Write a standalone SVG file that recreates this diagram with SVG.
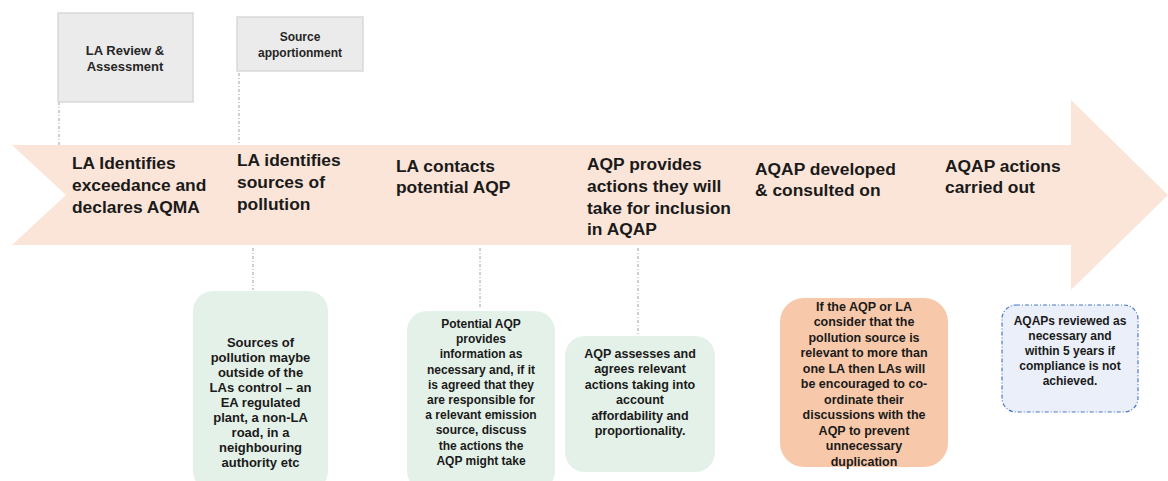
<svg xmlns="http://www.w3.org/2000/svg" width="1168" height="481" viewBox="0 0 1168 481">
<style>
.h{font-family:"Liberation Sans",Arial,sans-serif;font-weight:bold;font-size:17.4px;fill:#1a1a1a}
.g{font-family:"Liberation Sans",Arial,sans-serif;font-weight:bold;font-size:13px;fill:#262626;text-anchor:middle}
.b{font-family:"Liberation Sans",Arial,sans-serif;font-weight:bold;fill:#1a1a1a;text-anchor:middle}
.grey{fill:#ebebeb;stroke:#d9d9d9;stroke-width:1.5}
.green{fill:#e4f1e8}
.conn line{stroke:#a0a0a0;stroke-width:1;stroke-dasharray:3 2 1 2}
</style>
<g id="timeline-arrow">
<polygon points="12,145 1071,145 1071,100 1168,195 1071,290 1071,245 12,245 66,195" fill="#fbe5d8"/>
</g>
<g class="conn" id="connectors">
<line x1="59" y1="102" x2="59" y2="145"/>
<line x1="239" y1="65" x2="239" y2="145"/>
<line x1="253" y1="248" x2="253" y2="290"/>
<line x1="480" y1="248" x2="480" y2="307"/>
<line x1="638" y1="248" x2="638" y2="334"/>
</g>
<g id="la-review">
<rect class="grey" x="58" y="13" width="135" height="89"/>
<text class="g" x="125" y="55">LA Review &amp;</text>
<text class="g" x="125" y="71">Assessment</text>
</g>
<g id="source-apportionment">
<rect class="grey" x="237" y="17" width="126" height="54"/>
<text class="g" x="300" y="41" style="font-size:12px">Source</text>
<text class="g" x="300" y="57" style="font-size:12px">apportionment</text>
</g>
<g id="step1">
<text class="h" x="72" y="169">LA Identifies</text>
<text class="h" x="72" y="191">exceedance and</text>
<text class="h" x="72" y="213">declares AQMA</text>
</g>
<g id="step2">
<text class="h" x="237" y="166">LA identifies</text>
<text class="h" x="237" y="188">sources of</text>
<text class="h" x="237" y="210">pollution</text>
</g>
<g id="step3">
<text class="h" x="396" y="172">LA contacts</text>
<text class="h" x="396" y="193">potential AQP</text>
</g>
<g id="step4">
<text class="h" x="587" y="170">AQP provides</text>
<text class="h" x="587" y="192">actions they will</text>
<text class="h" x="587" y="214">take for inclusion</text>
<text class="h" x="587" y="235">in AQAP</text>
</g>
<g id="step5">
<text class="h" x="755" y="175">AQAP developed</text>
<text class="h" x="755" y="196">&amp; consulted on</text>
</g>
<g id="step6">
<text class="h" x="945" y="172">AQAP actions</text>
<text class="h" x="945" y="193">carried out</text>
</g>
<g id="note-sources">
<rect class="green" x="193" y="291" width="135" height="200" rx="20"/>
<text class="b" style="font-size:13px" x="260.5" y="347">Sources of</text>
<text class="b" style="font-size:13px" x="260.5" y="362">pollution maybe</text>
<text class="b" style="font-size:13px" x="260.5" y="377">outside of the</text>
<text class="b" style="font-size:13px" x="260.5" y="392">LAs control – an</text>
<text class="b" style="font-size:13px" x="260.5" y="407">EA regulated</text>
<text class="b" style="font-size:13px" x="260.5" y="422">plant, a non-LA</text>
<text class="b" style="font-size:13px" x="260.5" y="437">road, in a</text>
<text class="b" style="font-size:13px" x="260.5" y="452">neighbouring</text>
<text class="b" style="font-size:13px" x="260.5" y="467">authority etc</text>
</g>
<g id="note-potential-aqp">
<rect class="green" x="407" y="311" width="148" height="180" rx="20"/>
<text class="b" style="font-size:12px" x="481" y="328">Potential AQP</text>
<text class="b" style="font-size:12px" x="481" y="343.2">provides</text>
<text class="b" style="font-size:12px" x="481" y="358.4">information as</text>
<text class="b" style="font-size:12px" x="481" y="373.6">necessary and, if it</text>
<text class="b" style="font-size:12px" x="481" y="388.8">is agreed that they</text>
<text class="b" style="font-size:12px" x="481" y="404">are responsible for</text>
<text class="b" style="font-size:12px" x="481" y="419.2">a relevant emission</text>
<text class="b" style="font-size:12px" x="481" y="434.4">source, discuss</text>
<text class="b" style="font-size:12px" x="481" y="449.6">the actions the</text>
<text class="b" style="font-size:12px" x="481" y="464.8">AQP might take</text>
</g>
<g id="note-aqp-assesses">
<rect class="green" x="565" y="336" width="150" height="136" rx="20"/>
<text class="b" style="font-size:12.5px" x="640" y="357.5">AQP assesses and</text>
<text class="b" style="font-size:12.5px" x="640" y="373">agrees relevant</text>
<text class="b" style="font-size:12.5px" x="640" y="388.5">actions taking into</text>
<text class="b" style="font-size:12.5px" x="640" y="404">account</text>
<text class="b" style="font-size:12.5px" x="640" y="419.5">affordability and</text>
<text class="b" style="font-size:12.5px" x="640" y="435">proportionality.</text>
</g>
<g id="note-coordinate">
<rect x="780" y="298" width="168" height="169" rx="24" fill="#f7c9aa"/>
<text class="b" style="font-size:12.5px" x="864" y="310.5">If the AQP or LA</text>
<text class="b" style="font-size:12.5px" x="864" y="326">consider that the</text>
<text class="b" style="font-size:12.5px" x="864" y="341.5">pollution source is</text>
<text class="b" style="font-size:12.5px" x="864" y="357">relevant to more than</text>
<text class="b" style="font-size:12.5px" x="864" y="372.5">one LA then LAs will</text>
<text class="b" style="font-size:12.5px" x="864" y="388">be encouraged to co-</text>
<text class="b" style="font-size:12.5px" x="864" y="403.5">ordinate their</text>
<text class="b" style="font-size:12.5px" x="864" y="419">discussions with the</text>
<text class="b" style="font-size:12.5px" x="864" y="434.5">AQP to prevent</text>
<text class="b" style="font-size:12.5px" x="864" y="450">unnecessary</text>
<text class="b" style="font-size:12.5px" x="864" y="465.5">duplication</text>
</g>
<g id="note-review">
<rect x="1002" y="305" width="136" height="107" rx="14" fill="#eaeff9" stroke="#4a78c8" stroke-width="1.2" stroke-dasharray="4 2 1 2"/>
<text class="b" style="font-size:12px" x="1070" y="324.5">AQAPs reviewed as</text>
<text class="b" style="font-size:12px" x="1070" y="339.5">necessary and</text>
<text class="b" style="font-size:12px" x="1070" y="355">within 5 years if</text>
<text class="b" style="font-size:12px" x="1070" y="370">compliance is not</text>
<text class="b" style="font-size:12px" x="1070" y="385">achieved.</text>
</g>
</svg>
